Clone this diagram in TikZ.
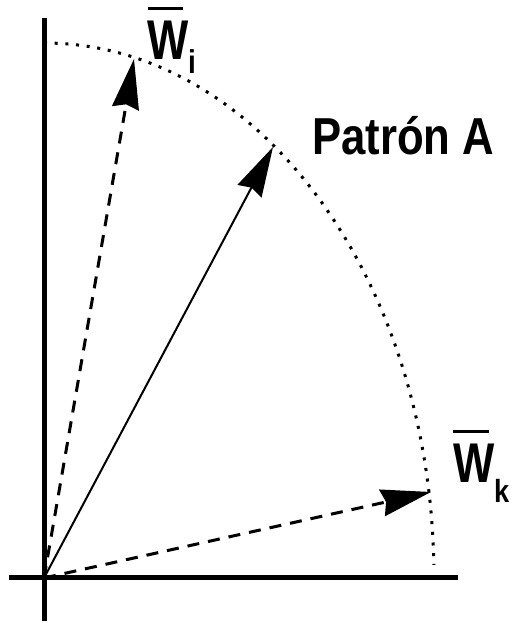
\documentclass[tikz,border=0pt]{standalone}
\usepackage{fontspec}
\setmainfont{Liberation Sans}
\usetikzlibrary{arrows.meta}
\begin{document}
\begin{tikzpicture}[x=1pt,y=1pt,
  axisline/.style={line width=5pt},
  vec/.style={line width=2pt,-{Stealth[length=50pt,width=27pt,inset=4pt]}},
  dvec/.style={vec,line width=3pt,dash pattern=on 12pt off 9pt},
  dotarc/.style={line width=3pt,dash pattern=on 3pt off 7.7pt},
  bigW/.style={inner sep=0pt,anchor=base west,xscale=0.78,font=\bfseries\fontsize{56}{56}\selectfont},
  subs/.style={inner sep=0pt,anchor=base west,xscale=0.85,font=\bfseries\fontsize{#1}{#1}\selectfont},
  bar/.style={line width=3pt},
  title/.style={inner sep=0pt,anchor=base west,xscale=0.84,font=\bfseries\fontsize{52}{52}\selectfont}
]
\useasboundingbox (0,0) rectangle (512,623);
\coordinate (O) at (44,45);
\coordinate (ytop) at (44,605);
\coordinate (ybot) at (44,2);
\coordinate (xl) at (9,45);
\coordinate (xr) at (458,45);
\coordinate (Wi) at (134,564);
\coordinate (A) at (273,476);
\coordinate (Wk) at (431,131);
\draw[axisline] (ybot) -- (ytop);
\draw[axisline] (xl) -- (xr);
\draw[dotarc] (44,580) arc[start angle=90,end angle=1.4,x radius=390,y radius=535];
\draw[dvec] (O) -- (Wi);
\draw[vec] (O) -- (A);
\draw[dvec] (O) -- (Wk);
% labels
\node[bigW] (wi) at (147,563) {W};
\node[subs=33] (wii) at (188,549) {i};
\draw[bar] (148,614.5) -- (183,614.5);
\node[title] (pa) at (312,468) {Patrón A};
\node[bigW] (wk) at (453,140) {W};
\node[subs=32] (wkk) at (494,120) {k};
\draw[bar] (453,191) -- (489,191);
\end{tikzpicture}
\end{document}
